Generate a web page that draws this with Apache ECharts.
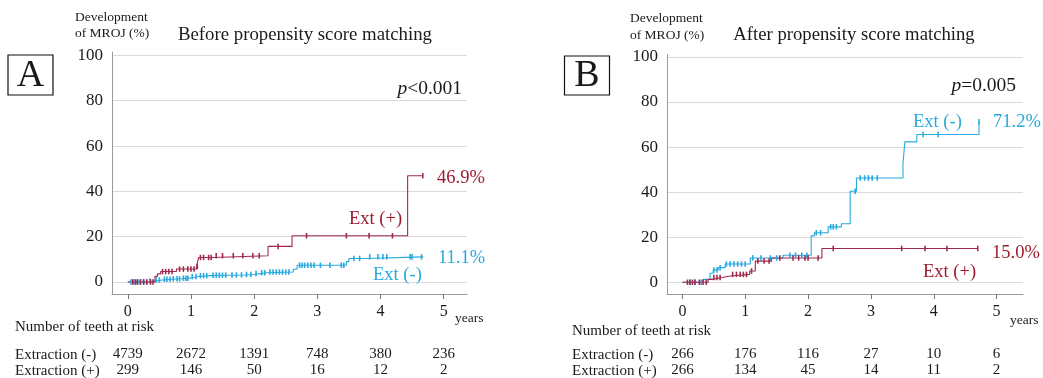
<!DOCTYPE html>
<html><head><meta charset="utf-8">
<script src="https://cdn.jsdelivr.net/npm/echarts@6/dist/echarts.min.js"></script>
<style>html,body{margin:0;padding:0;background:#fff}#c{width:1043px;height:378px}</style>
</head><body><div id="c"></div>
<script>
// ---------- data ----------
const xTicks = [0, 1, 2, 3, 4, 5];
const yTicks = [0, 20, 40, 60, 80, 100];

// Panel A (before matching) - Extraction (-) step curve
const A_neg_t = [0, 0.38, 0.43, 0.55, 0.7, 0.85, 0.98, 1.05, 1.12, 1.3, 1.6, 1.85, 2.0, 2.1, 2.2, 2.62, 2.68, 3.46, 3.5, 3.75, 4.68];
const A_neg_v = [0, 0.4, 0.9, 1.2, 1.4, 1.7, 2.0, 2.4, 2.8, 3.0, 3.1, 3.3, 3.7, 4.1, 4.4, 5.6, 7.4, 9.0, 10.4, 11.1, 11.1];
const A_neg_cens_t = [0.05,0.08,0.12,0.16,0.2,0.25,0.3,0.35, 0.45,0.5,0.58,0.62,0.67, 0.72,0.78,0.82, 0.88,0.92,0.95, 1.02,1.08, 1.15,1.2,1.25, 1.35,1.4,1.45,1.5,1.55, 1.65,1.72,1.8, 1.88,1.95, 2.03, 2.12,2.17, 2.25,2.3,2.35,2.4,2.45,2.5,2.55, 2.72,2.76,2.8,2.85,2.9,2.95,3.05,3.2,3.38,3.42, 3.58,3.67, 3.83,3.96,4.04,4.1,4.47,4.5,4.65];
const A_neg_cens_v = [0,0,0,0,0,0,0,0.4, 0.9,0.9,1.2,1.2,1.2, 1.4,1.4,1.4, 1.7,1.7,1.7, 2.4,2.4, 2.8,2.8,2.8, 3.0,3.0,3.0,3.0,3.0, 3.1,3.1,3.1, 3.3,3.3, 3.7, 4.1,4.1, 4.4,4.4,4.4,4.4,4.4,4.4,4.4, 7.4,7.4,7.4,7.4,7.4,7.4,7.4,7.4,7.4,7.4, 10.4,10.4, 11.1,11.1,11.1,11.1,11.1,11.1,11.1];
// Panel A - Extraction (+)
const A_pos_t = [0, 0.43, 0.47, 0.52, 0.77, 1.09, 1.12, 1.35, 2.22, 2.6, 4.43, 4.67];
const A_pos_v = [0, 2.5, 3.6, 4.6, 5.7, 6.9, 10.8, 11.6, 15.7, 20.4, 46.9, 46.9];
const A_pos_cens_t = [0.08,0.12,0.15,0.2,0.25,0.3,0.36,0.4, 0.55,0.6,0.65,0.7, 0.82,0.88,0.95,1.0,1.05, 1.1, 1.15,1.2,1.28,1.32, 1.4,1.5,1.67,1.82,1.98,2.08, 2.38, 2.83,3.46,3.82,4.19, 4.67];
const A_pos_cens_v = [0,0,0,0,0,0,0,0, 4.6,4.6,4.6,4.6, 5.7,5.7,5.7,5.7,5.7, 6.9, 10.8,10.8,10.8,10.8, 11.6,11.6,11.6,11.6,11.6,11.6, 15.7, 20.4,20.4,20.4,20.4, 46.9];

// Panel B (after matching) - Extraction (-)
const B_neg_t = [0, 0.33, 0.44, 0.49, 0.57, 0.68, 1.08, 1.6, 2.05, 2.1, 2.32, 2.53, 2.67, 2.77, 3.51, 3.54, 3.73, 4.72];
const B_neg_v = [0, 1.3, 4.0, 5.5, 6.5, 8.1, 10.8, 12.0, 20.6, 22.0, 24.6, 26.0, 40.4, 46.3, 52.7, 62.3, 65.6, 71.2];
const B_neg_cens_t = [0.12,0.2,0.3, 0.5,0.55,0.6, 0.7,0.76,0.82,0.88,0.94,1.0, 1.12,1.25,1.4,1.5, 1.71,1.8,1.9,1.98, 2.13,2.2, 2.36,2.4,2.45, 2.75, 2.83,2.9,2.96,3.02,3.1, 3.83,4.07, 4.72];
const B_neg_cens_v = [0,0,0, 5.5,5.5,6.5, 8.1,8.1,8.1,8.1,8.1,8.1, 10.8,10.8,10.8,10.8, 12.0,12.0,12.0,12.0, 22.0,22.0, 24.6,24.6,24.6, 40.4, 46.3,46.3,46.3,46.3,46.3, 65.6,65.6, 71.2];
// Panel B - Extraction (+)
const B_pos_t = [0, 0.41, 0.47, 0.63, 0.76, 1.07, 1.16, 1.42, 2.22, 4.7];
const B_pos_v = [0, 1.3, 2.1, 2.8, 3.5, 5.0, 9.4, 10.8, 15.0, 15.0];
const B_pos_cens_t = [0.08,0.12,0.16,0.2,0.27,0.33,0.38, 0.5,0.55,0.6, 0.8,0.86,0.92,0.97,1.02, 1.1, 1.2,1.3,1.38, 1.55,1.76,1.85,1.95,2.0,2.16, 2.4,3.49,3.86,4.21,4.7];
const B_pos_cens_v = [0,0,0,0,0,0,0, 2.1,2.1,2.1, 3.5,3.5,3.5,3.5,3.5, 5.0, 9.4,9.4,9.4, 10.8,10.8,10.8,10.8,10.8,10.8, 15.0,15.0,15.0,15.0,15.0];

// Numbers at risk
const A_risk_neg = [4739, 2672, 1391, 748, 380, 236];
const A_risk_pos = [299, 146, 50, 16, 12, 2];
const B_risk_neg = [266, 176, 116, 27, 10, 6];
const B_risk_pos = [266, 134, 45, 14, 11, 2];

// ---------- styles ----------
const SERIF = '"Liberation Serif", "Times New Roman", serif';
const BLUE = '#29a9e0';
const RED = '#a02a4c';
const RED_TXT = '#9b1b2f';
const AXIS = '#9a9a9a';
const GRIDC = '#dadada';
const TXT = '#1a1a1a';

const zip = (a, b) => a.map((v, i) => [v, b[i]]);

const panels = [
  {grid:{left:112, top:52, width:355, height:242.4}, xmin:-0.25, xmax:5.37, ymin:-5.3, ymax:101.5,
   neg:[A_neg_t,A_neg_v,A_neg_cens_t,A_neg_cens_v], pos:[A_pos_t,A_pos_v,A_pos_cens_t,A_pos_cens_v],
   riskNeg:A_risk_neg, riskPos:A_risk_pos},
  {grid:{left:667, top:54.7, width:356, height:241}, xmin:-0.245, xmax:5.42, ymin:-5.2, ymax:101,
   neg:[B_neg_t,B_neg_v,B_neg_cens_t,B_neg_cens_v], pos:[B_pos_t,B_pos_v,B_pos_cens_t,B_pos_cens_v],
   riskNeg:B_risk_neg, riskPos:B_risk_pos}
];

const grid = [], xAxis = [], yAxis = [], series = [];
panels.forEach((p, gi) => {
  grid.push(Object.assign({containLabel:false}, p.grid));
  // main x axis
  xAxis.push({gridIndex:gi, type:'value', min:p.xmin, max:p.xmax, position:'bottom',
    axisLine:{show:true, onZero:false, lineStyle:{color:AXIS, width:1}},
    axisTick:{show:true, customValues:xTicks, length:5, lineStyle:{color:'#777'}},
    axisLabel:{customValues:xTicks, margin:10, fontFamily:SERIF, fontSize:16, color:TXT},
    splitLine:{show:false}});
  // risk rows as offset axes
  [[p.riskNeg, 50], [p.riskPos, 66]].forEach(([arr, off]) => {
    xAxis.push({gridIndex:gi, type:'value', min:p.xmin, max:p.xmax, position:'bottom', offset:off,
      axisLine:{show:false, onZero:false}, axisTick:{show:false, customValues:xTicks},
      axisLabel:{customValues:xTicks, margin:3, fontFamily:SERIF, fontSize:15, color:TXT,
        formatter:(v) => String(arr[xTicks.indexOf(Math.round(v))])},
      splitLine:{show:false}});
  });
  yAxis.push({gridIndex:gi, type:'value', min:p.ymin, max:p.ymax,
    axisLine:{show:true, onZero:false, lineStyle:{color:AXIS, width:1}},
    axisTick:{show:false, customValues:yTicks},
    axisLabel:{customValues:yTicks, margin:9, fontFamily:SERIF, fontSize:17, color:TXT},
    splitLine:{show:true, lineStyle:{color:GRIDC, width:1}}});
  const xi = gi * 3;
  [[p.neg, BLUE], [p.pos, RED]].forEach(([d, col]) => {
    series.push({type:'line', xAxisIndex:xi, yAxisIndex:gi, step:'end', showSymbol:false, symbol:'none',
      lineStyle:{color:col, width:1.1}, itemStyle:{color:col}, data:zip(d[0], d[1]), z:3, silent:true, animation:false});
    series.push({type:'scatter', xAxisIndex:xi, yAxisIndex:gi, symbol:'rect', symbolSize:[1.6, 5.5],
      itemStyle:{color:col, opacity:1}, data:zip(d[2], d[3]), z:4, silent:true, animation:false});
  });
});

function txt(text, x, y, size, opts) {
  opts = opts || {};
  return {type:'text', x:x, y:y, silent:true, z:10,
    style:Object.assign({text:text, fontFamily:SERIF, fontSize:size, fill:opts.fill || TXT,
      align:opts.align || 'left', verticalAlign:'middle'}, opts.style || {})};
}
function pText(text, x, y) {
  return {type:'text', x:x, y:y, silent:true, z:10,
    style:{text:'{i|p}{n|' + text + '}', align:'right', verticalAlign:'middle',
      rich:{i:{fontFamily:SERIF, fontSize:19.5, fontStyle:'italic', fill:TXT},
            n:{fontFamily:SERIF, fontSize:19.5, fill:TXT}}}};
}

const graphic = [
  // Panel A
  {type:'rect', shape:{x:8, y:55, width:45, height:40}, style:{fill:'none', stroke:'#111', lineWidth:1.2}, silent:true},
  txt('A', 30.5, 76, 38, {align:'center'}),
  txt('Development', 75, 17, 13.5),
  txt('of MROJ (%)', 75, 33, 13.5),
  txt('Before propensity score matching', 305, 35, 18.8, {align:'center'}),
  pText('<0.001', 462, 89),
  txt('46.9%', 437, 178, 18.5, {fill:RED_TXT}),
  txt('Ext (+)', 349, 219, 18.5, {fill:RED_TXT}),
  txt('11.1%', 438, 258, 18.5, {fill:BLUE}),
  txt('Ext (-)', 373, 275, 18.5, {fill:BLUE}),
  txt('years', 455, 318, 13.5),
  txt('Number of teeth at risk', 15, 327, 15),
  txt('Extraction (-)', 15, 355, 15),
  txt('Extraction (+)', 15, 371, 15),
  // Panel B
  {type:'rect', shape:{x:564.5, y:56, width:45, height:39}, style:{fill:'none', stroke:'#111', lineWidth:1.2}, silent:true},
  txt('B', 587, 76, 38, {align:'center'}),
  txt('Development', 630, 18, 13.5),
  txt('of MROJ (%)', 630, 35, 13.5),
  txt('After propensity score matching', 854, 35, 18.7, {align:'center'}),
  pText('=0.005', 1016, 86),
  txt('Ext (-)', 913, 122, 18.5, {fill:BLUE}),
  txt('71.2%', 993, 122, 18.5, {fill:BLUE}),
  txt('15.0%', 992, 253, 18.5, {fill:RED_TXT}),
  txt('Ext (+)', 923, 272, 18.5, {fill:RED_TXT}),
  txt('years', 1010, 320, 13.5),
  txt('Number of teeth at risk', 572, 331, 15),
  txt('Extraction (-)', 572, 355, 15),
  txt('Extraction (+)', 572, 371, 15)
];

const chart = echarts.init(document.getElementById('c'), null, {renderer:'canvas'});
chart.setOption({animation:false, backgroundColor:'#fff', grid, xAxis, yAxis, series, graphic});
</script>
</body></html>
